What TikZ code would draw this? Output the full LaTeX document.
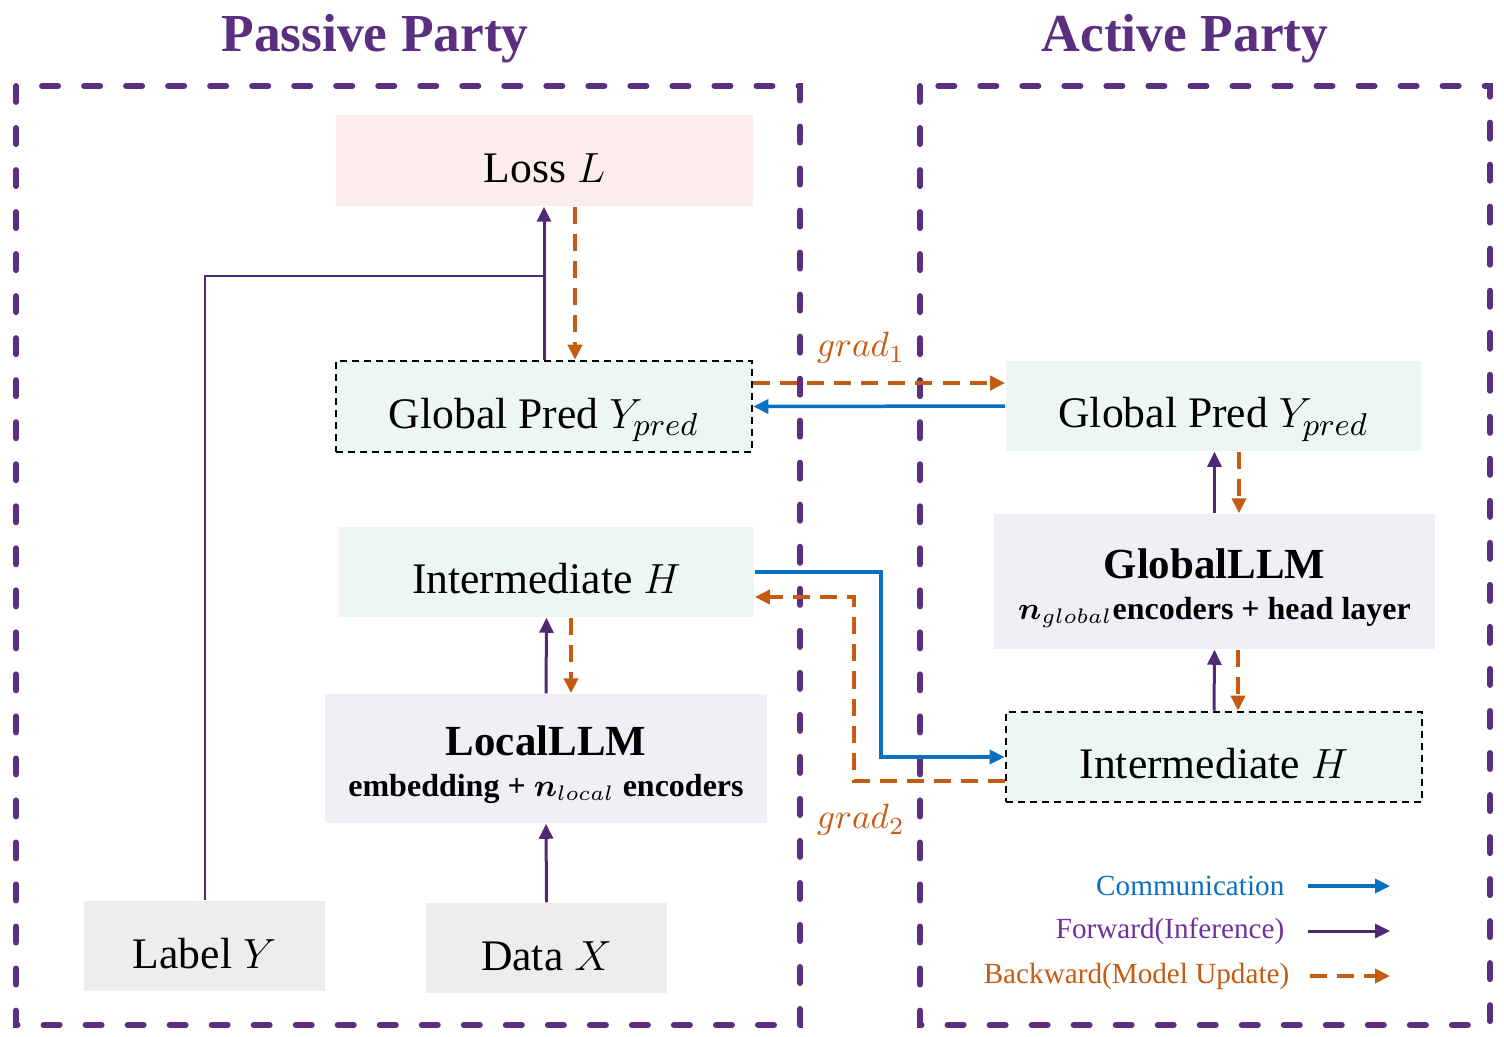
\documentclass[tikz,border=0pt]{standalone}
\usepackage{fontspec}
\setmainfont{Liberation Serif}
\usepackage{bm}
\usetikzlibrary{arrows.meta,calc}
\definecolor{partypurple}{HTML}{5B2F80}
\definecolor{fwdpurple}{HTML}{4E2A74}
\definecolor{fwdtext}{HTML}{7030A0}
\definecolor{commblue}{HTML}{0A70C0}
\definecolor{bwdorange}{HTML}{C55A11}
\definecolor{losspink}{HTML}{FDECEC}
\definecolor{predgreen}{HTML}{EDF7F1}
\definecolor{llmgray}{HTML}{F1EFF5}
\definecolor{datagray}{HTML}{EDEDED}
\begin{document}
\begin{tikzpicture}[x=0.01cm,y=-0.01cm,>={Triangle[length=0.15cm,width=0.14cm]},
  party/.style={draw=partypurple,line width=0.06cm,line cap=round,dash pattern=on 0.16cm off 0.26cm},
  title/.style={text=partypurple,font=\fontsize{15.2}{18}\selectfont\bfseries},
  box/.style={minimum width=4.16cm,minimum height=0.9cm,inner sep=0pt,
    font=\fontsize{12.4}{14}\selectfont,text height=1.25em,text depth=0pt},
  border/.style={draw=black,line width=0.025cm,dash pattern=on 0.07cm off 0.05cm},
  llm/.style={fill=llmgray,inner sep=0pt,align=center,text height=2.15em,text depth=0pt,
    font=\fontsize{9.1}{11.7}\selectfont\bfseries},
  fwd/.style={->,draw=fwdpurple,line width=0.03cm},
  bwd/.style={->,draw=bwdorange,line width=0.04cm,dash pattern=on 0.17cm off 0.1cm},
  comm/.style={->,draw=commblue,line width=0.035cm},
  grad/.style={text=bwdorange,font=\fontsize{10.2}{12}\selectfont},
  legend/.style={anchor=east,inner sep=0pt,font=\fontsize{8.3}{10}\selectfont}]
  \useasboundingbox (0,0) rectangle (1504,1036);

  % the two parties
  \draw[party] (16,86) rectangle (800,1025);
  \draw[party] (920,86) rectangle (1490,1025);
  \node[title] (passivetitle) at (375,39) {Passive Party};
  \node[title] (activetitle) at (1185,39) {Active Party};

  % passive party
  \node[box,fill=losspink,minimum width=4.17cm,minimum height=0.91cm] (loss) at (544.5,160.5) {Loss $L$};
  \node[box,fill=predgreen,border,minimum height=0.91cm] (gpredP) at (544,406.5) {Global Pred $Y_{pred}$};
  \node[box,fill=predgreen,minimum width=4.15cm] (interP) at (546.5,572) {Intermediate $H$};
  \node[llm,minimum width=4.42cm,minimum height=1.29cm] (localllm) at (546,758.5)
    {{\fontsize{12.2}{14}\selectfont LocalLLM}\\embedding + $\bm{n}_{local}$ encoders};
  \node[box,fill=datagray,minimum width=2.41cm] (labely) at (204.5,946) {Label $Y$};
  \node[box,fill=datagray,minimum width=2.41cm] (datax) at (546.5,948) {Data $X$};

  % active party
  \node[box,fill=predgreen,minimum width=4.15cm] (gpredA) at (1213.5,406) {Global Pred $Y_{pred}$};
  \node[llm,minimum width=4.41cm,minimum height=1.35cm] (globalllm) at (1214.5,581.5)
    {{\fontsize{12.2}{14}\selectfont GlobalLLM}\\$\bm{n}_{global}$encoders + head layer};
  \node[box,fill=predgreen,border] (interA) at (1214,757) {Intermediate $H$};

  % forward
  \coordinate (lossjoin) at (545,276);
  \draw[draw=fwdpurple,line width=0.02cm] (labely.north) |- (lossjoin);
  \draw[fwd] (gpredP.north) -- (gpredP.north |- loss.south);
  \draw[fwd] (localllm.north) -- (interP.south);
  \draw[fwd] (datax.north) -- (localllm.south);
  \draw[fwd] (globalllm.north) -- (globalllm.north |- gpredA.south);
  \draw[fwd] (interA.north) -- (globalllm.south);

  % backward
  \draw[bwd] ($(loss.south)+(30.5,0)$) -- ($(gpredP.north)+(31,0)$);
  \draw[bwd] ($(interP.south)+(24.5,0)$) -- ($(localllm.north)+(25,0)$);
  \draw[bwd] ($(gpredA.south)+(25.5,0)$) -- ($(globalllm.north)+(24.5,0)$);
  \draw[bwd] ($(globalllm.south)+(23.5,0)$) -- ($(interA.north)+(24,0)$);

  % communication
  \coordinate (commx) at (881,660);
  \coordinate (gradx) at (854,690);
  \draw[bwd] ($(gpredP.east)+(0,-23.5)$) -- ($(gpredA.west)+(0,-23)$);
  \draw[comm] (gpredA.west) -- (gpredP.east);
  \draw[comm] (interP.east) -| (commx) |- (interA.west);
  \draw[bwd] ($(interA.west)+(0,24)$) -| (gradx) |- ($(interP.east)+(0,25)$);
  \node[grad] (grad1) at (861,348) {$grad_1$};
  \node[grad] (grad2) at (861,820) {$grad_2$};

  % legend
  \node[legend,text=commblue] (legcomm) at (1285,886) {Communication};
  \node[legend,text=fwdtext] (legfwd) at (1285,931) {Forward(Inference)};
  \node[legend,text=bwdorange] (legbwd) at (1290,976) {Backward(Model Update)};
  \coordinate (legcommend) at (1390,886);
  \coordinate (legfwdend) at (1390,931);
  \coordinate (legbwdend) at (1390,976);
  \draw[comm] ($(legcomm.east)+(23,0)$) -- (legcommend);
  \draw[fwd] ($(legfwd.east)+(23,0)$) -- (legfwdend);
  \draw[bwd] ($(legbwd.east)+(20,0)$) -- (legbwdend);
\end{tikzpicture}
\end{document}
